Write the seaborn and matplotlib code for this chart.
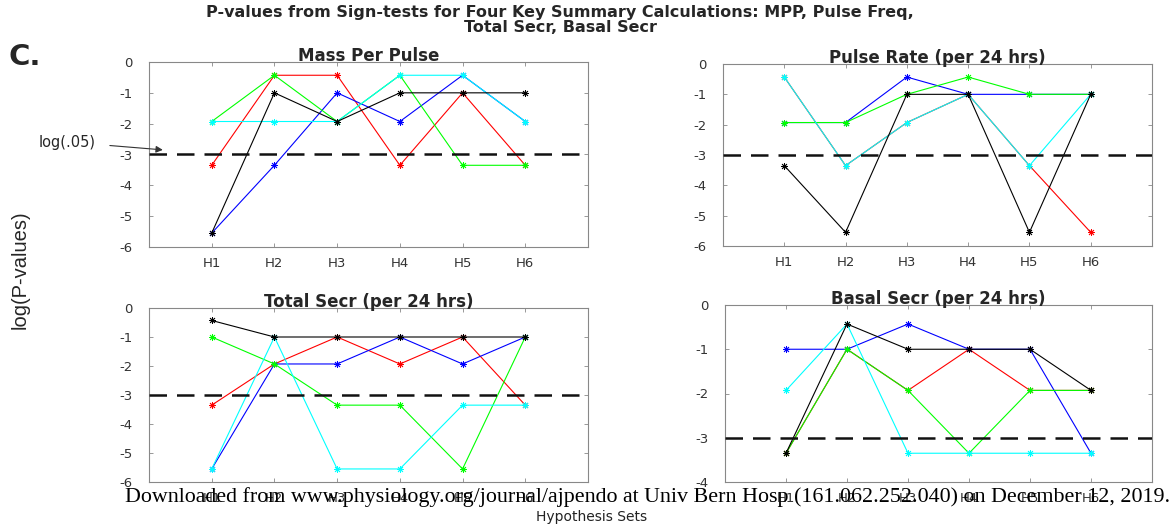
import matplotlib
matplotlib.use("Agg")
import matplotlib.pyplot as plt
import seaborn as sns
import pandas as pd
import numpy as np

hyp = ["H1", "H2", "H3", "H4", "H5", "H6"]
series_names = ["red", "blue", "green", "cyan", "black"]
series_colors = {"red": "#ff0000", "blue": "#0000ff", "green": "#00ff00",
                 "cyan": "#00ffff", "black": "#000000"}

# Mass Per Pulse
mpp_red = [-3.35, -0.43, -0.43, -3.35, -1.0, -3.35]
mpp_blue = [-5.55, -3.35, -1.0, -1.93, -0.43, -1.93]
mpp_green = [-1.93, -0.43, -1.93, -0.43, -3.35, -3.35]
mpp_cyan = [-1.93, -1.93, -1.93, -0.43, -0.43, -1.93]
mpp_black = [-5.55, -1.0, -1.93, -1.0, -1.0, -1.0]

# Pulse Rate
pr_red = [-0.43, -3.35, -1.93, -1.0, -3.35, -5.55]
pr_blue = [-1.93, -1.93, -0.43, -1.0, -1.0, -1.0]
pr_green = [-1.93, -1.93, -1.0, -0.43, -1.0, -1.0]
pr_cyan = [-0.43, -3.35, -1.93, -1.0, -3.35, -1.0]
pr_black = [-3.35, -5.55, -1.0, -1.0, -5.55, -1.0]

# Total Secr
ts_red = [-3.35, -1.93, -1.0, -1.93, -1.0, -3.35]
ts_blue = [-5.55, -1.93, -1.93, -1.0, -1.93, -1.0]
ts_green = [-1.0, -1.93, -3.35, -3.35, -5.55, -1.0]
ts_cyan = [-5.55, -1.0, -5.55, -5.55, -3.35, -3.35]
ts_black = [-0.43, -1.0, -1.0, -1.0, -1.0, -1.0]

# Basal Secr
bs_red = [-3.35, -1.0, -1.93, -1.0, -1.93, -1.93]
bs_blue = [-1.0, -1.0, -0.43, -1.0, -1.0, -3.35]
bs_green = [-3.35, -1.0, -1.93, -3.35, -1.93, -1.93]
bs_cyan = [-1.93, -0.43, -3.35, -3.35, -3.35, -3.35]
bs_black = [-3.35, -0.43, -1.0, -1.0, -1.0, -1.93]

panels = [
    ("Mass Per Pulse", [mpp_red, mpp_blue, mpp_green, mpp_cyan, mpp_black], (-6, 0)),
    ("Pulse Rate (per 24 hrs)", [pr_red, pr_blue, pr_green, pr_cyan, pr_black], (-6, 0)),
    ("Total Secr (per 24 hrs)", [ts_red, ts_blue, ts_green, ts_cyan, ts_black], (-6, 0)),
    ("Basal Secr (per 24 hrs)", [bs_red, bs_blue, bs_green, bs_cyan, bs_black], (-4, 0)),
]
threshold = -3.0

sns.set_style("white")
plt.rcParams["font.family"] = ["DejaVu Sans"]
plt.rcParams["axes.unicode_minus"] = False

fig = plt.figure(figsize=(11.76, 5.25), dpi=100)
W, H = 1176, 525
def rect(l, r, t, b):
    return [l / W, 1 - b / H, (r - l) / W, (b - t) / H]

axes_rects = [rect(149, 588, 62, 247), rect(723, 1152, 64, 246),
              rect(149, 588, 308, 482), rect(725, 1152, 305, 482)]

x_pos = np.arange(1, 7)
for (title, vals, ylim), r in zip(panels, axes_rects):
    ax = fig.add_axes(r)
    rows = []
    for name, v in zip(series_names, vals):
        for xp, yv in zip(x_pos, v):
            rows.append({"x": xp, "y": yv, "series": name})
    df = pd.DataFrame(rows)
    sns.lineplot(data=df, x="x", y="y", hue="series", hue_order=series_names,
                 palette=series_colors, marker=(8, 2, 0), markersize=5,
                 markeredgewidth=0.6, linewidth=0.8, legend=False, ax=ax,
                 sort=False, estimator=None)
    for ln in ax.lines:
        ln.set_markeredgecolor(ln.get_color())
        ln.set_markerfacecolor(ln.get_color())
    ax.axhline(threshold, color="#111111", linestyle=(0, (7, 4)), linewidth=1.8,
               zorder=5)
    ax.set_xlim(0, 7)
    ax.set_ylim(*ylim)
    ax.set_xticks(x_pos)
    ax.set_xticklabels(hyp)
    ax.set_yticks(np.arange(ylim[0], ylim[1] + 1, 1))
    ax.set_xlabel("")
    ax.set_ylabel("")
    ax.set_title(title, fontsize=12, fontweight="bold", pad=1)
    ax.tick_params(direction="in", length=3, width=0.6, colors="#888888",
                   labelcolor="#333333", labelsize=9.5, top=True, right=True,
                   bottom=True, left=True)
    ax.tick_params(axis="y", pad=12)
    ax.tick_params(axis="x", pad=7)
    for sp in ax.spines.values():
        sp.set_color("#888888")
        sp.set_linewidth(0.8)
    if title == "Mass Per Pulse":
        ax.annotate("log(.05)", xy=(0.22, -2.85), xycoords="data",
                    xytext=(67 / W, 1 - 142 / H), textcoords="figure fraction",
                    fontsize=10.5, ha="center", va="center",
                    arrowprops=dict(arrowstyle="-|>", color="#333333", lw=0.8,
                                    shrinkA=8, shrinkB=0, mutation_scale=10),
                    annotation_clip=False)

fig.text(560 / W, 1 - 12 / H, "P-values from Sign-tests for Four Key Summary Calculations: MPP, Pulse Freq,",
         fontsize=11.5, fontweight="bold", ha="center", va="center")
fig.text(560 / W, 1 - 28 / H, "Total Secr, Basal Secr",
         fontsize=11.5, fontweight="bold", ha="center", va="center")
fig.text(8 / W, 1 - 57 / H, "C.", fontsize=21, fontweight="bold", ha="left", va="center")
fig.text(20 / W, 1 - 270 / H, "log(P-values)", fontsize=14.5, rotation=90,
         family=["Liberation Sans", "DejaVu Sans"], ha="center", va="center")
fig.text(592 / W, 1 - 517 / H, "Hypothesis Sets", fontsize=10, ha="center",
         va="center", color="#222222")
fig.text(648 / W, 1 - 497 / H,
         "Downloaded from www.physiology.org/journal/ajpendo at Univ Bern Hosp (161.062.252.040) on December 12, 2019.",
         fontsize=15.8, family=["Liberation Serif", "DejaVu Serif"], ha="center",
         va="center", color="black")

fig.savefig("out.png", dpi=100)
